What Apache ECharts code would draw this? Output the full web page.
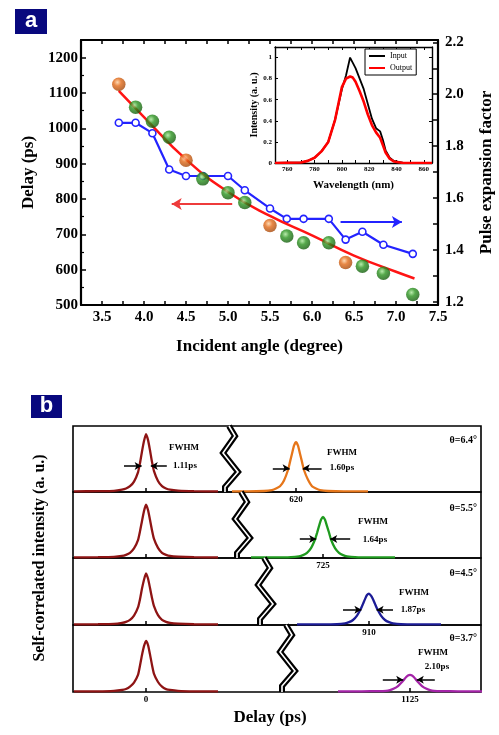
<!DOCTYPE html>
<html>
<head>
<meta charset="utf-8">
<script src="https://cdn.jsdelivr.net/npm/echarts@6/dist/echarts.min.js"></script>
<style>
  html, body { margin: 0; padding: 0; background: #fff; }
  #chart { width: 499px; height: 735px; }
</style>
</head>
<body>
<div id="chart"></div>
<script>
// ---- panel a: delay and pulse expansion vs incident angle ----
var angles = [3.7, 3.9, 4.1, 4.3, 4.5, 4.7, 5.0, 5.2, 5.5, 5.7, 5.9, 6.2, 6.4, 6.6, 6.85, 7.2];
var expansion = [1.89, 1.89, 1.85, 1.71, 1.685, 1.685, 1.685, 1.63, 1.56, 1.52, 1.52, 1.52, 1.44, 1.47, 1.42, 1.385];
var orangeAngles = [3.7, 4.5, 5.5, 6.4];
var orangeDelays = [1125, 910, 725, 620];
var greenAngles = [3.9, 4.1, 4.3, 4.7, 5.0, 5.2, 5.7, 5.9, 6.2, 6.6, 6.85, 7.2];
var greenDelays = [1060, 1020, 975, 857, 818, 790, 695, 676, 676, 610, 590, 530];
var fitAngles = [3.7, 4.0, 4.5, 5.0, 5.5, 6.0, 6.5, 7.0, 7.22];
var fitDelays = [1106, 1032, 912, 820, 752, 697, 640, 594, 575];
var angleLabels = [3.5, 4.0, 4.5, 5.0, 5.5, 6.0, 6.5, 7.0, 7.5];
var angleTicks = [3.25, 3.5, 3.75, 4.0, 4.25, 4.5, 4.75, 5.0, 5.25, 5.5, 5.75, 6.0, 6.25, 6.5, 6.75, 7.0, 7.25, 7.5];
var factorLabels = [1.2, 1.4, 1.6, 1.8, 2.0, 2.2];
var factorTicks = [1.2, 1.3, 1.4, 1.5, 1.6, 1.7, 1.8, 1.9, 2.0, 2.1, 2.2];

// inset spectrum
var wavelength = [751, 770, 775, 780, 785, 790, 795, 800, 803, 806, 808, 810, 813, 816, 819, 822, 825, 828, 830, 832, 835, 838, 845, 866];
var inputSpec = [0, 0.005, 0.02, 0.05, 0.11, 0.2, 0.41, 0.7, 0.83, 1.0, 0.95, 0.9, 0.8, 0.7, 0.56, 0.42, 0.33, 0.3, 0.22, 0.12, 0.05, 0.02, 0, 0];
var outputSpec = [0, 0.005, 0.02, 0.05, 0.11, 0.2, 0.41, 0.72, 0.8, 0.82, 0.81, 0.77, 0.68, 0.58, 0.46, 0.36, 0.29, 0.24, 0.17, 0.1, 0.04, 0.015, 0, 0];
var waveLabels = [760, 780, 800, 820, 840, 860];
var waveTicks = [760, 770, 780, 790, 800, 810, 820, 830, 840, 850, 860];
var intLabels = [0, 0.2, 0.4, 0.6, 0.8, 1];

// ---- panel b: autocorrelation traces ----
var rowAngles = ['6.4', '5.5', '4.5', '3.7'];
var rowDelays = [620, 725, 910, 1125];
var rowFwhm = ['1.60', '1.64', '1.87', '2.10'];
var refFwhm = '1.11';
var offsets = [-9, -6, -4, -3, -2.5, -2, -1.5, -1, -0.75, -0.5, -0.25, 0, 0.25, 0.5, 0.75, 1, 1.5, 2, 2.5, 3, 4, 6, 9];
var leftPeaks = [
  [0.01, 0.015, 0.02, 0.04, 0.06, 0.1, 0.18, 0.34, 0.5, 0.7, 0.88, 1.0, 0.9, 0.72, 0.52, 0.36, 0.19, 0.1, 0.06, 0.04, 0.025, 0.015, 0.01],
  [0.01, 0.014, 0.02, 0.035, 0.055, 0.09, 0.165, 0.31, 0.46, 0.64, 0.81, 0.92, 0.83, 0.66, 0.48, 0.33, 0.175, 0.09, 0.055, 0.035, 0.023, 0.014, 0.01],
  [0.01, 0.013, 0.018, 0.035, 0.053, 0.088, 0.16, 0.3, 0.44, 0.62, 0.77, 0.88, 0.79, 0.63, 0.46, 0.32, 0.167, 0.088, 0.053, 0.035, 0.022, 0.013, 0.01],
  [0.01, 0.012, 0.02, 0.034, 0.05, 0.09, 0.16, 0.29, 0.45, 0.63, 0.78, 0.87, 0.8, 0.64, 0.46, 0.31, 0.17, 0.09, 0.05, 0.035, 0.02, 0.012, 0.01]
];
var rightPeaks = [
  [0.01, 0.01, 0.017, 0.034, 0.06, 0.1, 0.2, 0.38, 0.52, 0.66, 0.8, 0.86, 0.8, 0.66, 0.52, 0.38, 0.21, 0.1, 0.06, 0.034, 0.017, 0.01, 0.01],
  [0.01, 0.01, 0.015, 0.03, 0.05, 0.09, 0.17, 0.32, 0.43, 0.55, 0.66, 0.71, 0.66, 0.55, 0.44, 0.32, 0.17, 0.09, 0.05, 0.03, 0.015, 0.01, 0.01],
  [0.01, 0.01, 0.013, 0.027, 0.048, 0.085, 0.16, 0.28, 0.36, 0.44, 0.51, 0.535, 0.5, 0.44, 0.36, 0.28, 0.16, 0.085, 0.048, 0.027, 0.013, 0.01, 0.01],
  [0.01, 0.012, 0.015, 0.02, 0.032, 0.058, 0.1, 0.17, 0.21, 0.25, 0.28, 0.29, 0.28, 0.25, 0.21, 0.17, 0.1, 0.058, 0.032, 0.02, 0.015, 0.012, 0.01]
];
var rightColors = ['#e6761a', '#1f9a1f', '#1c1c96', '#a424a8'];
var leftColor = '#8e1414';

var chart = echarts.init(document.getElementById('chart'));
var serif = '"Liberation Serif", "DejaVu Serif", serif';

function ball(c0, c1, c2) {
  return { type: 'radial', x: 0.4, y: 0.36, r: 0.72,
    colorStops: [{ offset: 0, color: c0 }, { offset: 0.38, color: c1 }, { offset: 1, color: c2 }] };
}
function zip(xs, ys) { return xs.map(function (x, i) { return [x, ys[i]]; }); }
function bold(size) { return { color: '#000', fontFamily: serif, fontWeight: 'bold', fontSize: size }; }
function plain(v) { return String(v); }

var blackLine = { show: true, onZero: false, lineStyle: { color: '#000', width: 2.2 } };
var thinLine = { show: true, onZero: false, lineStyle: { color: '#000', width: 1.4 } };

var grids = [
  { left: 81, top: 40, width: 357, height: 265, outerBoundsMode: 'none' },
  { left: 275, top: 47, width: 157, height: 116, show: true, backgroundColor: '#fff', borderWidth: 0, outerBoundsMode: 'none' }
];
var xAxes = [
  { gridIndex: 0, type: 'value', position: 'bottom', min: 3.25, max: 7.5, axisLine: blackLine,
    axisTick: { inside: true, length: 4, customValues: angleTicks, lineStyle: { color: '#000', width: 1.5 } },
    axisLabel: Object.assign({ customValues: angleLabels, margin: 5, formatter: function (v) { return v.toFixed(1); } }, bold(15)),
    splitLine: { show: false },
    name: 'Incident angle (degree)', nameLocation: 'middle', nameGap: 33, nameTextStyle: bold(17) },
  { gridIndex: 0, type: 'value', position: 'top', min: 3.25, max: 7.5, axisLine: blackLine,
    axisTick: { inside: true, length: 4, customValues: angleTicks, lineStyle: { color: '#000', width: 1.5 } },
    axisLabel: { show: false }, splitLine: { show: false } },
  { gridIndex: 1, type: 'value', position: 'bottom', min: 751, max: 866, axisLine: thinLine,
    axisTick: { inside: true, length: 3, customValues: waveTicks, lineStyle: { color: '#000' } },
    axisLabel: Object.assign({ customValues: waveLabels, margin: 3, formatter: plain }, bold(7)),
    splitLine: { show: false },
    name: 'Wavelength (nm)', nameLocation: 'middle', nameGap: 17, nameTextStyle: bold(11) },
  { gridIndex: 1, type: 'value', position: 'top', min: 751, max: 866, axisLine: thinLine,
    axisTick: { inside: true, length: 3, customValues: waveTicks, lineStyle: { color: '#000' } },
    axisLabel: { show: false }, splitLine: { show: false } }
];
var yAxes = [
  { gridIndex: 0, type: 'value', position: 'left', min: 500, max: 1250, interval: 100, axisLine: blackLine,
    axisTick: { inside: true, length: 5, lineStyle: { color: '#000', width: 1.5 } },
    minorTick: { show: true, splitNumber: 2, length: 3, lineStyle: { color: '#000', width: 1.2 } },
    axisLabel: Object.assign({ margin: 3, showMaxLabel: false, formatter: plain }, bold(15)),
    splitLine: { show: false }, minorSplitLine: { show: false },
    name: 'Delay (ps)', nameLocation: 'middle', nameGap: 41, nameRotate: 90, nameTextStyle: bold(17) },
  { gridIndex: 0, type: 'value', position: 'right', min: 1.188, max: 2.209, axisLine: blackLine,
    axisTick: { inside: true, length: 5, customValues: factorTicks, lineStyle: { color: '#000', width: 1.5 } },
    axisLabel: Object.assign({ customValues: factorLabels, margin: 7, formatter: function (v) { return v.toFixed(1); } }, bold(15)),
    splitLine: { show: false },
    name: 'Pulse expansion factor', nameLocation: 'middle', nameGap: 40, nameRotate: 90, nameTextStyle: bold(17) },
  { gridIndex: 1, type: 'value', position: 'left', min: 0, max: 1.1, axisLine: thinLine,
    axisTick: { inside: true, length: 3, customValues: intLabels, lineStyle: { color: '#000' } },
    axisLabel: Object.assign({ customValues: intLabels, margin: 3, formatter: function (v) { return v === 0 || v === 1 ? String(v) : v.toFixed(1); } }, bold(7)),
    splitLine: { show: false },
    name: 'Intensity (a. u.)', nameLocation: 'middle', nameGap: 16, nameRotate: 90, nameTextStyle: bold(10) },
  { gridIndex: 1, type: 'value', position: 'right', min: 0, max: 1.1, axisLine: thinLine,
    axisTick: { inside: true, length: 3, customValues: intLabels, lineStyle: { color: '#000' } },
    axisLabel: { show: false }, splitLine: { show: false } }
];

var series = [
  { type: 'line', name: 'factor', xAxisIndex: 0, yAxisIndex: 1, data: zip(angles, expansion), z: 3,
    symbol: 'circle', symbolSize: 7, lineStyle: { color: '#2323ff', width: 2.2 },
    itemStyle: { color: '#fff', borderColor: '#2323ff', borderWidth: 1.6 },
    markLine: { silent: true, symbol: ['none', 'arrow'], symbolSize: [9, 10], label: { show: false },
      lineStyle: { color: '#2323ff', width: 2, type: 'solid' },
      data: [[{ coord: [6.34, 1.508] }, { coord: [7.07, 1.508] }]] } },
  { type: 'line', name: 'fit', xAxisIndex: 0, yAxisIndex: 0, data: zip(fitAngles, fitDelays), z: 4,
    smooth: true, symbol: 'none', lineStyle: { color: '#ff1414', width: 2.5 },
    markLine: { silent: true, symbol: ['none', 'arrow'], symbolSize: [9, 10], label: { show: false },
      lineStyle: { color: '#ee3b3b', width: 2, type: 'solid' },
      data: [[{ coord: [5.05, 786] }, { coord: [4.33, 786] }]] } },
  { type: 'scatter', name: 'green', xAxisIndex: 0, yAxisIndex: 0, data: zip(greenAngles, greenDelays), z: 5,
    symbolSize: 13.5, itemStyle: { color: ball('#a6e596', '#2c9420', '#0f5209') } },
  { type: 'scatter', name: 'orange', xAxisIndex: 0, yAxisIndex: 0, data: zip(orangeAngles, orangeDelays), z: 5,
    symbolSize: 13.5, itemStyle: { color: ball('#fdd0a0', '#e26a18', '#9a4208') } },
  { type: 'line', name: 'Input', xAxisIndex: 2, yAxisIndex: 2, data: zip(wavelength, inputSpec), z: 6,
    symbol: 'none', lineStyle: { color: '#000', width: 1.8 }, itemStyle: { color: '#000' } },
  { type: 'line', name: 'Output', xAxisIndex: 2, yAxisIndex: 2, data: zip(wavelength, outputSpec), z: 7,
    symbol: 'none', lineStyle: { color: '#ff0000', width: 2.6 }, itemStyle: { color: '#ff0000' } }
];

// panel b layout
var rowTops = [426, 492, 558, 625];
var rowHeights = [66, 66, 67, 67];
var breakX = [230, 242, 265, 287];
var peakX = [296, 323, 369, 410];
var zeroX = 146, pxPerPs = 8, frameL = 73, frameR = 481;
var fwhmArrows = [
  { y: 0.41, a: [-2.9, -0.8], b: [3.2, 0.85] },
  { y: 0.33, a: [-2.9, -0.85], b: [3.4, 0.9] },
  { y: 0.26, a: [-3.25, -0.95], b: [3.0, 0.95] },
  { y: 0.21, a: [-3.4, -0.85], b: [3.1, 0.85] }
];

function arrowMark(pairs, y) {
  return { silent: true, symbol: ['none', 'arrow'], symbolSize: [6, 7], label: { show: false },
    lineStyle: { color: '#000', width: 1.5, type: 'solid' },
    data: pairs.map(function (p) { return [{ coord: [p[0], y] }, { coord: [p[1], y] }]; }) };
}

rowDelays.forEach(function (d, i) {
  var gl = grids.length;
  grids.push({ left: frameL, top: rowTops[i], width: breakX[i] - 4 - frameL, height: rowHeights[i], outerBoundsMode: 'none' });
  grids.push({ left: breakX[i] + 4, top: rowTops[i], width: frameR - breakX[i] - 4, height: rowHeights[i], outerBoundsMode: 'none' });
  var xl = xAxes.length;
  xAxes.push({ gridIndex: gl, type: 'value', position: 'bottom',
    min: -(zeroX - frameL) / pxPerPs, max: (breakX[i] - 4 - zeroX) / pxPerPs,
    axisLine: { show: false, onZero: false },
    axisTick: { inside: true, length: 4, customValues: [0], lineStyle: { color: '#000', width: 1.5 } },
    axisLabel: Object.assign({ show: i === 3, customValues: [0], margin: 3, formatter: plain }, bold(9)),
    splitLine: { show: false } });
  xAxes.push({ gridIndex: gl + 1, type: 'value', position: 'bottom',
    min: d - (peakX[i] - breakX[i] - 4) / pxPerPs, max: d + (frameR - peakX[i]) / pxPerPs,
    axisLine: { show: false, onZero: false },
    axisTick: { inside: true, length: 4, customValues: [d], lineStyle: { color: '#000', width: 1.5 } },
    axisLabel: Object.assign({ customValues: [d], margin: 3, formatter: plain }, bold(9)),
    splitLine: { show: false } });
  var yl = yAxes.length;
  yAxes.push({ gridIndex: gl, type: 'value', min: 0, max: 1.14, show: false });
  yAxes.push({ gridIndex: gl + 1, type: 'value', min: 0, max: 1.14, show: false });

  var leftSeries = { type: 'line', xAxisIndex: xl, yAxisIndex: yl, z: 3,
    data: zip(offsets, leftPeaks[i]), symbol: 'none', smooth: 0.2,
    lineStyle: { color: leftColor, width: 2.3 } };
  if (i === 0) leftSeries.markLine = arrowMark([[-2.75, -0.55], [2.6, 0.6]], 0.45);
  series.push(leftSeries);
  var fa = fwhmArrows[i];
  series.push({ type: 'line', xAxisIndex: xl + 1, yAxisIndex: yl + 1, z: 3,
    data: zip(offsets.map(function (o) { return d + o; }), rightPeaks[i]), symbol: 'none', smooth: 0.2,
    lineStyle: { color: rightColors[i], width: 2.3 },
    markLine: arrowMark([[d + fa.a[0], d + fa.a[1]], [d + fa.b[0], d + fa.b[1]]], fa.y) });
});

// decorations
function label(text, x, y, size, align) {
  return { type: 'text', x: x, y: y, z: 120,
    style: { text: text, fill: '#000', font: 'bold ' + size + 'px ' + serif,
      align: align || 'center', textAlign: align || 'center', verticalAlign: 'middle', textVerticalAlign: 'middle' } };
}
var graphics = [
  { type: 'rect', shape: { x: 15, y: 9, width: 32, height: 25 }, style: { fill: '#08087e' }, z: 100 },
  { type: 'text', x: 31, y: 21, z: 101, style: { text: 'a', fill: '#fff', font: 'bold 22px "Liberation Sans", sans-serif', align: 'center', textAlign: 'center', verticalAlign: 'middle', textVerticalAlign: 'middle' } },
  { type: 'rect', shape: { x: 31, y: 395, width: 31, height: 23 }, style: { fill: '#08087e' }, z: 100 },
  { type: 'text', x: 46.5, y: 406, z: 101, style: { text: 'b', fill: '#fff', font: 'bold 22px "Liberation Sans", sans-serif', align: 'center', textAlign: 'center', verticalAlign: 'middle', textVerticalAlign: 'middle' } },
  { type: 'text', x: 40, y: 558, rotation: Math.PI / 2, z: 101,
    style: { text: 'Self-correlated intensity (a. u.)', fill: '#000', font: 'bold 16px ' + serif, align: 'center', textAlign: 'center', verticalAlign: 'middle', textVerticalAlign: 'middle' } },
  label('Delay (ps)', 270, 718, 17),
  label('FWHM', 184, 448, 9), label(refFwhm + 'ps', 185, 466, 9)
];
var fwhmText = [[342, 453, 342, 468], [373, 522, 375, 540], [414, 593, 413, 610], [433, 653, 437, 667]];
rowDelays.forEach(function (d, i) {
  var t = rowTops[i], h = rowHeights[i], c = breakX[i];
  graphics.push({ type: 'rect', z: 1, shape: { x: frameL, y: t, width: frameR - frameL, height: h },
    style: { fill: null, stroke: '#000', lineWidth: 1.6 } });
  var pts = [[c - 1, t], [c + 5, t + 10], [c - 7, t + 27], [c + 8, t + 46], [c - 5, t + 61], [c - 5, t + h]];
  graphics.push({ type: 'polyline', z: 110, shape: { points: pts }, style: { stroke: '#000', lineWidth: 6, fill: null } });
  graphics.push({ type: 'polyline', z: 111, shape: { points: pts }, style: { stroke: '#fff', lineWidth: 1.6, fill: null } });
  graphics.push(label('θ=' + rowAngles[i] + '°', 477, [440, 508, 573, 638][i], 10, 'right'));
  var ft = fwhmText[i];
  graphics.push(label('FWHM', ft[0], ft[1], 9));
  graphics.push(label(rowFwhm[i] + 'ps', ft[2], ft[3], 9));
});

chart.setOption({
  animation: false,
  textStyle: { fontFamily: serif },
  legend: { data: ['Input', 'Output'], left: 365, top: 49, orient: 'vertical', icon: 'rect', itemWidth: 16, itemHeight: 2,
    itemGap: 4, padding: [3, 4], borderColor: '#000', borderWidth: 1, backgroundColor: '#fff',
    textStyle: { fontSize: 8, fontFamily: serif, color: '#000' } },
  grid: grids,
  xAxis: xAxes,
  yAxis: yAxes,
  series: series,
  graphic: { elements: graphics }
});
</script>
</body>
</html>
